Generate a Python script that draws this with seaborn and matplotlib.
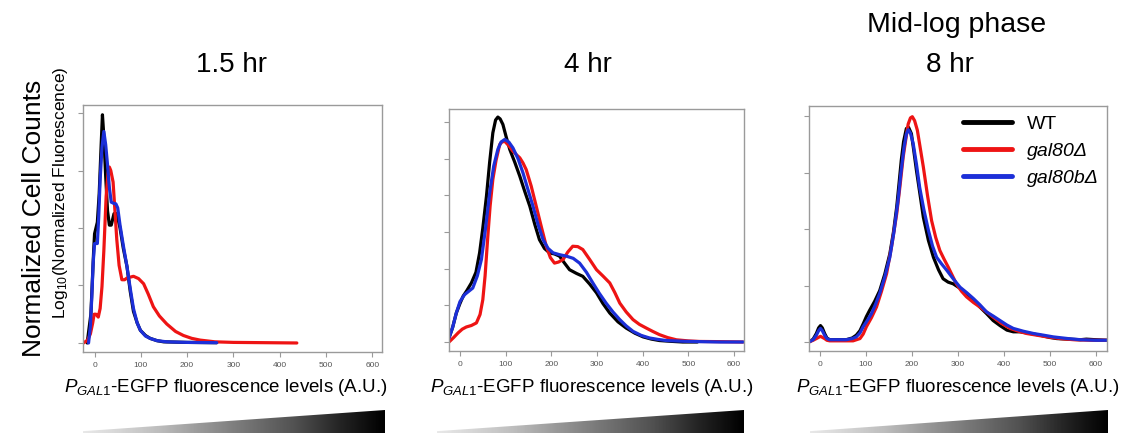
import numpy as np
import pandas as pd
import matplotlib
matplotlib.use("Agg")
import matplotlib.pyplot as plt
from matplotlib.patches import Polygon
import seaborn as sns

# ---------------- data ----------------
strains = ["WT", "gal80Δ", "gal80bΔ"]
colors = ["#000000", "#ee1414", "#1c2fd8"]
titles = ["1.5 hr", "4 hr", "8 hr"]
x_ticks = [0, 100, 200, 300, 400, 500, 600]

# 1.5 hr
p1_wt_x = [-16, -8, -2, 0, 6, 10, 14, 17, 20, 24, 28, 32, 36, 42, 48, 55, 62, 70, 77, 84, 92, 99, 110, 120, 135, 149, 200, 264]
p1_wt_y = [0, 0.5, 1.6, 1.9, 2.1, 2.6, 3.4, 3.97, 3.6, 2.9, 2.3, 2.05, 2.05, 2.25, 2.25, 2.0, 1.65, 1.33, 0.9, 0.55, 0.35, 0.22, 0.13, 0.08, 0.04, 0.02, 0.01, 0.005]
p1_ko_x = [-24, -15, -9, -4, -1, 3, 8, 12, 16, 20, 25, 29, 32, 35, 40, 44, 48, 53, 59, 65, 70, 84, 95, 106, 116, 127, 140, 156, 175, 192, 210, 228, 260, 300, 370, 437]
p1_ko_y = [0, 0.05, 0.16, 0.35, 0.5, 0.5, 0.45, 0.6, 0.98, 1.6, 2.55, 2.95, 3.06, 3.0, 2.8, 2.3, 1.8, 1.35, 1.1, 1.1, 1.13, 1.16, 1.12, 1.03, 0.85, 0.63, 0.47, 0.33, 0.2, 0.13, 0.08, 0.05, 0.02, 0.01, 0.005, 0.0]
p1_kb_x = [-13, -9, -6, -3, 0, 6, 9, 12, 16, 20, 24, 28, 32, 36, 41, 46, 50, 55, 62, 70, 77, 84, 92, 99, 110, 120, 135, 156, 200, 264]
p1_kb_y = [0, 0.3, 0.8, 1.4, 1.73, 1.73, 2.2, 2.84, 3.4, 3.68, 3.45, 3.1, 2.7, 2.45, 2.43, 2.42, 2.35, 2.05, 1.7, 1.33, 0.95, 0.6, 0.35, 0.22, 0.12, 0.08, 0.04, 0.02, 0.01, 0.005]

# 4 hr
p2_wt_x = [-24, -16, -8, 0, 7, 15, 25, 35, 43, 50, 58, 65, 72, 78, 83, 88, 94, 101, 109, 120, 131, 142, 153, 164, 174, 185, 196, 207, 218, 229, 240, 255, 269, 284, 299, 313, 328, 346, 364, 383, 401, 419, 437, 460, 488, 520]
p2_wt_y = [0.11, 0.4, 0.79, 1.05, 1.25, 1.4, 1.61, 1.9, 2.43, 3.1, 3.97, 4.9, 5.7, 6.05, 6.13, 6.08, 5.93, 5.6, 5.25, 4.9, 4.52, 4.1, 3.7, 3.2, 2.79, 2.55, 2.43, 2.4, 2.34, 2.15, 1.97, 1.87, 1.79, 1.58, 1.34, 1.05, 0.79, 0.55, 0.38, 0.24, 0.14, 0.08, 0.04, 0.02, 0.0, 0.0]
p2_ko_x = [-24, -14, -4, 5, 14, 25, 36, 44, 50, 55, 61, 66, 72, 79, 87, 92, 98, 107, 116, 124, 131, 138, 145, 156, 167, 178, 189, 198, 207, 216, 226, 236, 247, 258, 269, 284, 299, 313, 328, 339, 350, 364, 379, 393, 408, 422, 437, 455, 474, 500, 525, 570, 620]
p2_ko_y = [0, 0.12, 0.25, 0.35, 0.41, 0.45, 0.52, 0.75, 1.15, 1.8, 2.88, 3.7, 4.43, 4.95, 5.38, 5.45, 5.47, 5.35, 5.2, 5.1, 5.02, 4.88, 4.7, 4.25, 3.7, 3.15, 2.61, 2.3, 2.15, 2.18, 2.25, 2.45, 2.61, 2.6, 2.52, 2.25, 1.97, 1.8, 1.61, 1.35, 1.06, 0.82, 0.61, 0.48, 0.38, 0.29, 0.2, 0.12, 0.06, 0.03, 0.015, 0.01, 0.0]
p2_kb_x = [-24, -16, -8, 0, 10, 19, 28, 38, 47, 56, 65, 74, 83, 90, 98, 107, 116, 127, 138, 149, 160, 171, 182, 193, 204, 218, 233, 248, 262, 277, 291, 305, 320, 335, 350, 364, 379, 397, 415, 434, 452, 490, 525, 570, 620]
p2_kb_y = [0.11, 0.4, 0.79, 1.1, 1.29, 1.38, 1.47, 1.8, 2.25, 3.1, 4.06, 4.8, 5.25, 5.45, 5.52, 5.45, 5.29, 5.0, 4.61, 4.15, 3.7, 3.2, 2.79, 2.55, 2.43, 2.38, 2.34, 2.28, 2.15, 1.9, 1.61, 1.33, 1.06, 0.82, 0.61, 0.44, 0.29, 0.18, 0.11, 0.07, 0.04, 0.02, 0.01, 0.0, 0.0]

# 8 hr (mid-log phase)
p3_wt_x = [-24, -15, -8, -3, 1, 5, 10, 15, 21, 35, 57, 70, 79, 87, 94, 101, 108, 119, 130, 141, 152, 160, 167, 172, 177, 182, 188, 193, 199, 204, 210, 218, 225, 236, 247, 258, 268, 279, 290, 305, 319, 334, 348, 363, 377, 392, 407, 421, 436, 458, 479, 500, 516, 540, 567, 580, 600, 625]
p3_wt_y = [0, 0.05, 0.15, 0.25, 0.29, 0.25, 0.15, 0.07, 0.04, 0.04, 0.04, 0.07, 0.12, 0.2, 0.32, 0.45, 0.56, 0.72, 0.91, 1.2, 1.56, 1.95, 2.39, 2.8, 3.22, 3.55, 3.78, 3.8, 3.69, 3.4, 3.04, 2.6, 2.21, 1.8, 1.5, 1.28, 1.12, 1.06, 1.03, 0.95, 0.86, 0.74, 0.62, 0.5, 0.38, 0.29, 0.21, 0.18, 0.18, 0.15, 0.12, 0.08, 0.06, 0.05, 0.04, 0.05, 0.04, 0.03]
p3_ko_x = [-24, -15, -8, 1, 10, 15, 21, 72, 87, 94, 101, 112, 123, 134, 145, 156, 167, 174, 181, 187, 192, 197, 201, 206, 212, 218, 225, 234, 243, 252, 261, 270, 279, 288, 297, 308, 319, 334, 348, 363, 377, 395, 414, 432, 450, 472, 494, 523, 552, 590, 625]
p3_ko_y = [0, 0.03, 0.06, 0.1, 0.06, 0.03, 0.02, 0.02, 0.06, 0.14, 0.27, 0.43, 0.62, 0.9, 1.21, 1.7, 2.27, 2.75, 3.27, 3.6, 3.86, 3.97, 3.99, 3.92, 3.75, 3.45, 3.1, 2.6, 2.15, 1.85, 1.62, 1.47, 1.33, 1.18, 1.03, 0.9, 0.8, 0.7, 0.62, 0.53, 0.44, 0.33, 0.24, 0.19, 0.15, 0.12, 0.09, 0.06, 0.04, 0.03, 0.03]
p3_kb_x = [-24, -15, -8, -3, 1, 5, 10, 15, 21, 57, 70, 79, 87, 94, 103, 112, 121, 130, 141, 152, 161, 170, 176, 183, 188, 192, 197, 203, 210, 217, 226, 236, 245, 254, 265, 276, 290, 305, 320, 334, 348, 363, 377, 392, 407, 421, 443, 465, 487, 508, 540, 567, 600, 625]
p3_kb_y = [0, 0.04, 0.12, 0.2, 0.24, 0.2, 0.12, 0.06, 0.04, 0.04, 0.06, 0.09, 0.16, 0.27, 0.38, 0.5, 0.67, 0.86, 1.15, 1.5, 1.95, 2.51, 2.98, 3.45, 3.68, 3.76, 3.7, 3.51, 3.15, 2.74, 2.35, 1.98, 1.7, 1.5, 1.38, 1.27, 1.12, 0.97, 0.87, 0.77, 0.66, 0.53, 0.46, 0.38, 0.3, 0.24, 0.19, 0.15, 0.12, 0.09, 0.06, 0.04, 0.03, 0.03]

panels = [
    [(p1_wt_x, p1_wt_y), (p1_ko_x, p1_ko_y), (p1_kb_x, p1_kb_y)],
    [(p2_wt_x, p2_wt_y), (p2_ko_x, p2_ko_y), (p2_kb_x, p2_kb_y)],
    [(p3_wt_x, p3_wt_y), (p3_ko_x, p3_ko_y), (p3_kb_x, p3_kb_y)],
]
y_tick_counts = [5, 7, 5]

# ---------------- style ----------------
sns.set_theme(style="ticks")
plt.rcParams["font.family"] = ["Liberation Sans", "DejaVu Sans"]
plt.rcParams["mathtext.fontset"] = "custom"
plt.rcParams["mathtext.rm"] = "Liberation Sans"
plt.rcParams["mathtext.it"] = "Liberation Sans:italic"
plt.rcParams["text.color"] = "black"

W, H = 1133, 433
fig = plt.figure(figsize=(W / 100, H / 100), dpi=100)

# axes boxes in pixels: left, top, right, bottom
boxes = [(83, 105, 382, 352), (449, 109, 744, 351), (809, 106, 1107, 351)]
xlims = [(-25, 621), (-24, 622), (-24, 625)]
ylims = [(-0.157, 4.14), (-0.245, 6.35), (-0.16, 4.18)]

spine_c = "#9a9a9a"
palette = dict(zip(strains, colors))

axes = []
for i, (l, t, r, b) in enumerate(boxes):
    ax = fig.add_axes([l / W, 1 - b / H, (r - l) / W, (b - t) / H])
    rows = []
    for s, (xs, ys) in zip(strains, panels[i]):
        rows.append(pd.DataFrame({"x": xs, "y": ys, "strain": s}))
    df = pd.concat(rows, ignore_index=True)
    sns.lineplot(data=df, x="x", y="y", hue="strain", hue_order=strains,
                 palette=palette, sort=False, estimator=None, linewidth=2.3,
                 legend=(i == 2), ax=ax)
    ax.set_xlim(*xlims[i])
    ax.set_ylim(*ylims[i])
    ax.set_xticks(x_ticks)
    ax.set_xticklabels([str(v) for v in x_ticks])
    ax.set_yticks(list(range(y_tick_counts[i])))
    ax.set_yticklabels([])
    ax.set_xlabel("")
    ax.set_ylabel("")
    for sp in ax.spines.values():
        sp.set_visible(True)
        sp.set_color(spine_c)
        sp.set_linewidth(1.0)
    ax.tick_params(axis="both", direction="out", length=3.5, width=0.8,
                   color=spine_c, labelsize=6, labelcolor="#555555",
                   bottom=True, left=True, top=False, right=False, pad=4)
    axes.append(ax)

# legend
leg = axes[2].legend(loc="upper left", bbox_to_anchor=(963 / W, 1 - 115 / H),
                     bbox_transform=fig.transFigure, frameon=False,
                     handlelength=2.5, handletextpad=0.8, labelspacing=0.5,
                     borderpad=0, borderaxespad=0, fontsize=14)
for line in leg.get_lines():
    line.set_linewidth(3.5)
for txt in leg.get_texts():
    txt.set_color("black")
    if txt.get_text() != "WT":
        txt.set_fontstyle("italic")

# titles
fig.text(232 / W, 1 - 65 / H, "1.5 hr", ha="center", va="center", fontsize=20)
fig.text(588 / W, 1 - 65 / H, "4 hr", ha="center", va="center", fontsize=20)
fig.text(950 / W, 1 - 65 / H, "8 hr", ha="center", va="center", fontsize=20)
fig.text(957 / W, 1 - 25 / H, "Mid-log phase", ha="center", va="center", fontsize=20.5)

# y labels
fig.text(34 / W, 1 - 218 / H, "Normalized Cell Counts", rotation=90,
         ha="center", va="center", fontsize=19)
fig.text(60 / W, 1 - 193 / H, r"Log$_{10}$(Normalized Fluorescence)", rotation=90,
         ha="center", va="center", fontsize=12.5)

# x labels
xlab = r"$\mathit{P}_{\mathit{GAL1}}$-EGFP fluorescence levels (A.U.)"
for cx in [226, 592, 958]:
    fig.text(cx / W, 1 - 388 / H, xlab, ha="center", va="center", fontsize=13.5)

# gradient wedges
grad = np.linspace(0, 1, 512).reshape(1, -1)
for (l, r) in [(83, 385), (437, 744), (810, 1108)]:
    tax = fig.add_axes([l / W, 0, (r - l) / W, 23 / H])
    tax.set_xlim(0, 1)
    tax.set_ylim(0, 1)
    tax.axis("off")
    im = tax.imshow(grad, cmap="Greys", vmin=-0.2, vmax=1, aspect="auto",
                    extent=(0, 1, 0, 1))
    tri = Polygon([(0, 0), (1, 0), (1, 1), (0, 0.08)], closed=True,
                  transform=tax.transData, facecolor="none", edgecolor="none")
    tax.add_patch(tri)
    im.set_clip_path(tri)

fig.savefig("out.png", dpi=100)
